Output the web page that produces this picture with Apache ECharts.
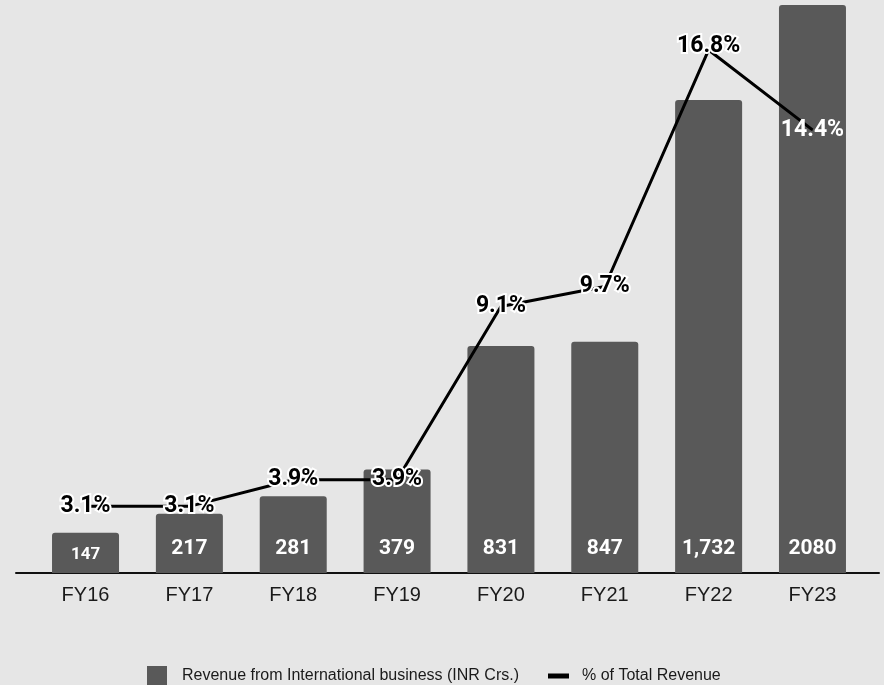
<!DOCTYPE html>
<html>
<head>
<meta charset="utf-8">
<script src="https://cdn.jsdelivr.net/npm/echarts@6/dist/echarts.min.js"></script>
<style>
html,body{margin:0;padding:0;background:#e6e6e6;}
#chart{width:884px;height:685px;}
</style>
</head>
<body>
<div id="chart"></div>
<script>
const categories = ['FY16','FY17','FY18','FY19','FY20','FY21','FY22','FY23'];
const revenue = [147, 217, 281, 379, 831, 847, 1732, 2080];
const revenueLabels = ['147','217','281','379','831','847','1,732','2080'];
const pctShare = [3.1, 3.1, 3.9, 3.9, 9.1, 9.7, 16.8, 14.4];
const pctLabels = ['3.1%','3.1%','3.9%','3.9%','9.1%','9.7%','16.8%','14.4%'];
const barName = 'Revenue from International business (INR Crs.)';
const lineName = '% of Total Revenue';

const chart = echarts.init(document.getElementById('chart'), null, {renderer:'canvas'});

const barData = revenue.map((v, i) => ({
  value: v,
  label: { formatter: revenueLabels[i], fontSize: i === 0 ? 17 : 21, distance: i === 0 ? 10 : 14 }
}));
const lineData = pctShare.map((v, i) => {
  const d = { value: v, label: { formatter: pctLabels[i] } };
  if (i === 7) { d.label.color = '#ffffff'; d.label.textBorderWidth = 0; }
  if (i === 6) { d.label.offset = [0, -4]; }
  return d;
});

chart.setOption({
  backgroundColor: '#e6e6e6',
  animation: false,
  grid: [
    { left: 16, right: 5, top: 5, bottom: 112 },
    { left: 33.6, right: 19.6, top: 5, bottom: 112 }
  ],
  xAxis: [
    { type: 'category', gridIndex: 0, data: categories,
      axisLine: { show: true, lineStyle: { color: '#111', width: 2 } },
      axisTick: { show: false }, axisLabel: { show: false }, splitLine: { show: false } },
    { type: 'category', gridIndex: 1, data: categories,
      axisLine: { show: false }, axisTick: { show: false },
      axisLabel: { color: '#1a1a1a', fontSize: 20, fontFamily: '"Liberation Sans", Arial, sans-serif', margin: 12 } }
  ],
  yAxis: [
    { type: 'value', gridIndex: 0, show: false, min: 0, max: 1 },
    { type: 'value', gridIndex: 1, show: false, min: 0, max: 2080, splitLine: { show: false } },
    { type: 'value', gridIndex: 1, show: false, min: 1.1, max: 18.15, splitLine: { show: false } }
  ],
  legend: [
    { data: [{ name: barName, icon: 'rect' }], left: 147, top: 666, padding: 0, itemWidth: 20, itemHeight: 20,
      textStyle: { color: '#1a1a1a', fontSize: 16, fontFamily: 'Liberation Sans, Arial, sans-serif', padding: [0,0,0,10] },
      selectedMode: false },
    { data: [{ name: lineName, icon: 'rect' }], left: 548, top: 666, padding: 0, itemWidth: 21, itemHeight: 5,
      textStyle: { color: '#1a1a1a', fontSize: 16, fontFamily: 'Liberation Sans, Arial, sans-serif', padding: [0,0,0,8], lineHeight: 20 },
      selectedMode: false }
  ],
  series: [
    {
      name: barName, type: 'bar', xAxisIndex: 1, yAxisIndex: 1,
      data: barData, barWidth: 67,
      itemStyle: { color: '#595959', borderRadius: [3,3,0,0] },
      label: { show: true, position: 'insideBottom', color: '#ffffff',
        fontWeight: 'bold', fontFamily: 'Roboto, sans-serif' },
      z: 2
    },
    {
      name: lineName, type: 'line', xAxisIndex: 1, yAxisIndex: 2,
      data: lineData, symbol: 'circle', symbolSize: 1, showSymbol: true,
      lineStyle: { color: '#000', width: 3 }, itemStyle: { color: '#000' },
      label: { show: true, position: 'inside', color: '#000', fontSize: 23, fontWeight: 'bold',
        fontFamily: 'Roboto, sans-serif', textBorderColor: '#ffffff', textBorderWidth: 4 },
      z: 3
    }
  ]
});
</script>
</body>
</html>
